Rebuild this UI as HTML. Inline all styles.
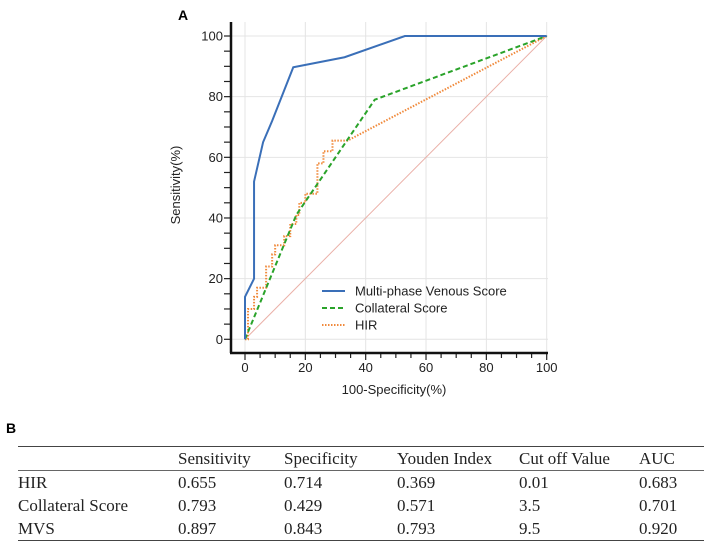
<!DOCTYPE html>
<html><head><meta charset="utf-8"><style>
body{margin:0;width:708px;height:558px;background:#fff;overflow:hidden;font-family:"Liberation Sans",sans-serif}
#tbl{position:absolute;left:18px;top:446px;width:686px;border-collapse:collapse;font-family:"Liberation Serif",serif;font-size:17px;color:#222}
#tbl td{padding:0;height:23px;line-height:23px;white-space:nowrap}
</style></head><body>
<svg width="708" height="430" style="position:absolute;left:0;top:0">
<text x="178" y="20" font-size="14" font-weight="bold">A</text>
<g id="grid"></g><g id="ticks"></g><g id="series"></g>
<line x1="231" y1="22" x2="231" y2="353" stroke="#111" stroke-width="2.5"/>
<line x1="230" y1="353" x2="548" y2="353" stroke="#111" stroke-width="2.5"/>
<text x="394" y="394" font-size="13" text-anchor="middle" fill="#222">100-Specificity(%)</text>
<text transform="translate(180,185) rotate(-90)" font-size="13" text-anchor="middle" fill="#222">Sensitivity(%)</text>
<g>
<line x1="322" y1="291" x2="345" y2="291" stroke="#3a6fb8" stroke-width="2"/>
<text x="355" y="295.5" font-size="13" fill="#222">Multi-phase Venous Score</text>
<line x1="322" y1="308" x2="345" y2="308" stroke="#2aa32a" stroke-width="2" stroke-dasharray="5,3"/>
<text x="355" y="312.5" font-size="13" fill="#222">Collateral Score</text>
<line x1="322" y1="325" x2="345" y2="325" stroke="#f08a3c" stroke-width="2" stroke-dasharray="1.5,1.5"/>
<text x="355" y="329.5" font-size="13" fill="#222">HIR</text>
</g>
</svg>
<div style="position:absolute;left:6px;top:420px;font-size:14px;font-weight:bold">B</div>
<table id="tbl">
<tr style="border-top:1.5px solid #444;border-bottom:1px solid #666"><td style="width:160px"></td><td style="width:106px">Sensitivity</td><td style="width:113px">Specificity</td><td style="width:122px">Youden Index</td><td style="width:120px">Cut off Value</td><td>AUC</td></tr>
<tr><td>HIR</td><td>0.655</td><td>0.714</td><td>0.369</td><td>0.01</td><td>0.683</td></tr>
<tr><td>Collateral Score</td><td>0.793</td><td>0.429</td><td>0.571</td><td>3.5</td><td>0.701</td></tr>
<tr style="border-bottom:1.5px solid #444"><td>MVS</td><td>0.897</td><td>0.843</td><td>0.793</td><td>9.5</td><td>0.920</td></tr>
</table>
<script>
const ticks=[0,20,40,60,80,100];
const mvsX=[0,0,3,3,6,9,16,33,53,100];
const mvsY=[0,14,20,52,65,72,89.7,93,100,100];
const colX=[0,17,43,100];
const colY=[0,41,79,100];
const hirX=[0,1,1,3,3,4,4,7,7,9,9,10,10,13,13,15,15,17,17,18,18,20,20,24,24,26,26,29,29,34,100];
const hirY=[0,0,10,10,14,14,17,17,24,24,28,28,31,31,34,34,38,38,41,41,45,45,48,48,58,58,62,62,65.5,65.5,100];
const NS="http://www.w3.org/2000/svg";
const sx=v=>245+v*3.017, sy=v=>339.3-v*3.033;
function mk(t,a,p){const e=document.createElementNS(NS,t);for(const k in a)e.setAttribute(k,a[k]);p.appendChild(e);return e;}
const grid=document.getElementById('grid'),tk=document.getElementById('ticks'),ser=document.getElementById('series');
ticks.forEach(t=>{
 const g1=mk('line',{x1:sx(t),x2:sx(t),y1:22,y2:353,stroke:'#e4e4e4'},grid);
 
 
 const g2=mk('line',{x1:231,x2:548,y1:sy(t),y2:sy(t),stroke:'#e4e4e4'},grid);
 
 
 const lx=mk('text',{x:sx(t),y:372,'font-size':13,'text-anchor':'middle',fill:'#222'},tk);lx.textContent=t;
 
 
 const ly=mk('text',{x:223,y:sy(t)+4.5,'font-size':13,'text-anchor':'end',fill:'#222'},tk);ly.textContent=t;
 
 
});
for(let v=0;v<=100;v+=5){
 const maj=v%20===0;
 const a=mk('line',{x1:sx(v),x2:sx(v),y1:353,y2:maj?360:358,stroke:'#222','stroke-width':1.2},tk);
 
 
 const b=mk('line',{x1:224,x2:231,y1:sy(v),y2:sy(v),stroke:'#222','stroke-width':1.2},tk);
 
 
}
const diag=mk('line',{x1:sx(0),y1:sy(0),x2:sx(100),y2:sy(100),stroke:'#eab0a8','stroke-width':1},ser);


function path(xs,ys,attrs,name){
 const d=xs.map((x,i)=>(i?'L':'M')+sx(x)+' '+sy(ys[i])).join(' ');
 const p=mk('path',Object.assign({d:d,fill:'none'},attrs),ser);
 
 
}
path(hirX,hirY,{stroke:'#f08a3c','stroke-width':2,'stroke-dasharray':'1.5,1.5'},'hir-curve');
path(colX,colY,{stroke:'#2aa32a','stroke-width':2,'stroke-dasharray':'5,3'},'collateral-curve');
path(mvsX,mvsY,{stroke:'#3a6fb8','stroke-width':2},'mvs-curve');
</script>
</body></html>
